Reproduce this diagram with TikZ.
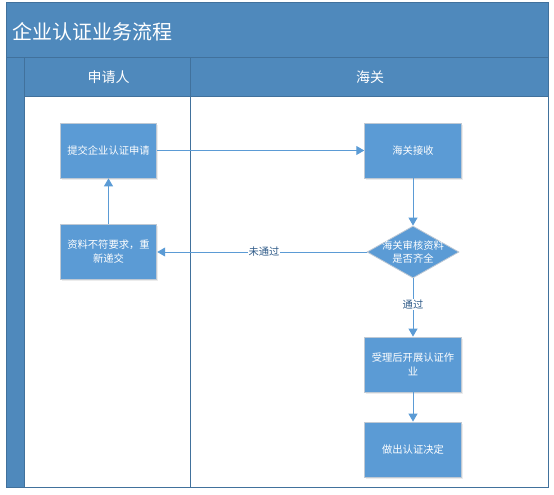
\documentclass[tikz,border=0pt]{standalone}
\usepackage{fontspec}
\setmainfont{Noto Sans CJK SC}
\usetikzlibrary{shapes.geometric,arrows.meta,shadows}
\definecolor{band}{HTML}{4F89BC}
\definecolor{bandline}{HTML}{41719C}
\definecolor{boxfill}{HTML}{5B9BD5}
\definecolor{boxedge}{HTML}{BFC9D4}
\definecolor{lineblue}{HTML}{5B9BD5}
\definecolor{textblue}{HTML}{2E5A88}
\tikzset{
  stepbox/.style={draw=boxedge, line width=0.8pt, fill=boxfill, minimum width=93pt, minimum height=55pt,
    text width=90pt, align=center, text=white, font=\fontsize{10.3}{14}\selectfont,
    drop shadow={shadow xshift=1.5pt, shadow yshift=-1.5pt, fill=black!15, opacity=0.5}},
  decide/.style={diamond, aspect=1.77, draw=boxedge, line width=0.8pt, fill=boxfill, inner sep=-5pt,
    minimum width=92pt, minimum height=52pt, text=white, align=center, font=\fontsize{10.3}{13}\selectfont},
  flow/.style={draw=lineblue, line width=1pt, -{Triangle[length=8pt,width=9pt]}},
  lbl/.style={fill=white, inner sep=1pt, text=textblue, font=\fontsize{10.3}{12}\selectfont},
}
\begin{document}
\begin{tikzpicture}[x=1pt,y=-1pt]
\useasboundingbox (0,0) rectangle (554,495);
% frame
\fill[band] (6,3) rectangle (548,96);
\fill[band] (6,96) rectangle (24.5,487);
\draw[bandline, line width=1pt] (6,3) rectangle (548,487);
\draw[bandline, line width=1pt] (6,58) -- (548,58);
\draw[bandline, line width=1pt] (24.5,58) -- (24.5,487);
\draw[bandline, line width=1pt] (24.5,96) -- (548,96);
\draw[bandline, line width=1pt] (190.5,58) -- (190.5,487);
\node[anchor=west, inner sep=0pt, text=white, font=\fontsize{20}{22}\selectfont] (title) at (12,32) {企业认证业务流程};
\node[text=white, font=\fontsize{14}{16}\selectfont] (lane1) at (108.5,77) {申请人};
\node[text=white, font=\fontsize{14}{16}\selectfont] (lane2) at (370,77) {海关};
% nodes
\node[stepbox] (submit) at (108.5,150.5) {提交企业认证申请};
\node[stepbox] (resub) at (108.5,252) {资料不符要求，重\\新递交};
\node[stepbox] (recv) at (413,150.5) {海关接收};
\node[decide] (check) at (413,252) {海关审核资料\\是否齐全};
\node[stepbox] (work) at (413,364.5) {受理后开展认证作\\业};
\node[stepbox] (decision) at (413,449.5) {做出认证决定};
% connectors
\draw[flow] (submit) -- (recv);
\draw[flow] (recv) -- (check);
\draw[flow] (check) -- node[lbl, pos=0.49] {未通过} (resub);
\draw[flow] (check) -- node[lbl, pos=0.45] {通过} (work);
\draw[flow] (work) -- (decision);
\draw[flow] (resub) -- (submit);
\end{tikzpicture}
\end{document}
